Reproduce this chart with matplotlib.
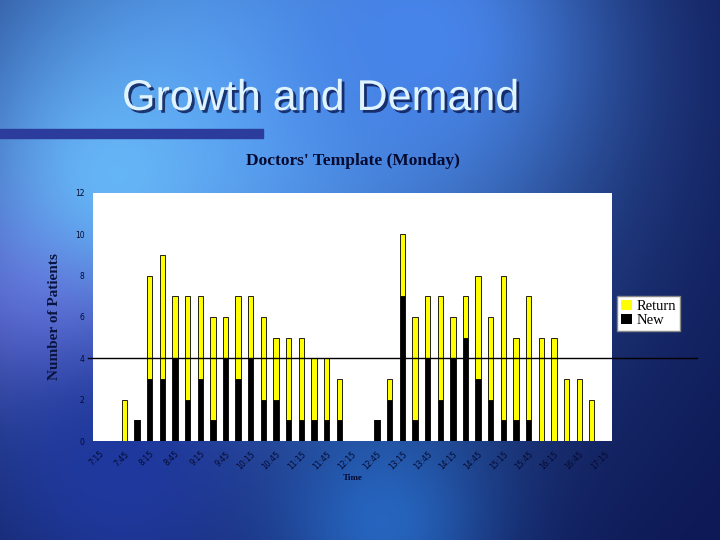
import numpy as np
import matplotlib
matplotlib.use("Agg")
import matplotlib.pyplot as plt
import matplotlib.patheffects as pe
from matplotlib.patches import Rectangle, Patch

# 15-minute slots from 7:15 to 17:15
slot_times = [f"{(7 * 60 + 15 + 15 * i) // 60}:{(7 * 60 + 15 + 15 * i) % 60:02d}" for i in range(41)]
new_patients = [0, 0, 0, 1, 3, 3, 4, 2, 3, 1, 4, 3, 4, 2, 2, 1, 1, 1, 1, 1,
                0, 0, 1, 2, 7, 1, 4, 2, 4, 5, 3, 2, 1, 1, 1, 0, 0, 0, 0, 0, 0]
return_patients = [0, 0, 2, 0, 5, 6, 3, 5, 4, 5, 2, 4, 3, 4, 3, 4, 4, 3, 3, 2,
                   0, 0, 0, 1, 3, 5, 3, 5, 2, 2, 5, 4, 7, 4, 6, 5, 5, 3, 3, 2, 0]
target_line = 4

W, H = 720, 540
fig = plt.figure(figsize=(7.2, 5.4), dpi=100)

# slide background: blue blotchy gradient
yy, xx = np.mgrid[0:H, 0:W]
img = np.ones((H, W, 3)) * np.array([0.05, 0.09, 0.33])
blobs = [((230, 110), 330, (0.34, 0.62, 0.94)),
         ((60, 290), 120, (0.42, 0.40, 0.85)),
         ((120, 180), 130, (0.40, 0.72, 0.97)),
         ((420, 40), 160, (0.28, 0.52, 0.92)),
         ((380, 520), 110, (0.15, 0.40, 0.75)),
         ((120, 470), 140, (0.12, 0.22, 0.62))]
for (cx, cy), r, col in blobs:
    w = np.exp(-(((xx - cx) ** 2 + (yy - cy) ** 2) / r ** 2))[..., None]
    img = img * (1 - w) + np.array(col) * w
bg = fig.add_axes([0, 0, 1, 1], zorder=-1)
bg.imshow(img, aspect="auto", extent=(0, W, H, 0))
bg.set_xlim(0, W)
bg.set_ylim(H, 0)
bg.axis("off")
bg.add_patch(Rectangle((0, 129), 263, 9, color="#2b3c9c"))
bg.text(122, 99, "Growth and Demand", fontsize=31, color="#dff4ff",
        family="Liberation Sans", va="center", ha="left",
        path_effects=[pe.withSimplePatchShadow(offset=(2, -2), shadow_rgbFace="#0a1850", alpha=0.8)])

ax = fig.add_axes([0.129, 0.183, 0.721, 0.46])
ax.set_facecolor("white")
x = np.arange(len(slot_times))
ax.bar(x, new_patients, width=0.42, color="black", edgecolor="black", linewidth=0.6, zorder=2)
ax.bar(x, return_patients, width=0.42, bottom=new_patients, color="#ffff00",
       edgecolor="black", linewidth=0.6, zorder=2)
ax.axhline(target_line, xmin=-0.01, xmax=1.164, color="black", lw=1, clip_on=False, zorder=3)

ax.set_xlim(-0.5, 40.6)
ax.set_ylim(0, 12)
ax.set_yticks(range(0, 13, 2))
ax.set_xticks(x[::2])
ax.set_xticklabels(slot_times[::2], rotation=45, ha="right", rotation_mode="anchor")
ax.tick_params(length=0, labelsize=5.5, labelcolor="#050a30", pad=6)
for s in ax.spines.values():
    s.set_visible(False)

ax.set_title("Doctors' Template (Monday)", family="Liberation Serif", weight="bold",
             fontsize=12.5, color="#050a30", pad=20)
ax.set_ylabel("Number of Patients", family="Liberation Serif", weight="bold",
              fontsize=11, color="#0a1440", labelpad=10)
ax.set_xlabel("Time", family="Liberation Serif", weight="bold", fontsize=6.5,
              color="#050a30", labelpad=2)

handles = [Patch(facecolor="#ffff00", edgecolor="none", label="Return"),
           Patch(facecolor="black", edgecolor="none", label="New")]
fig.legend(handles=handles, loc="upper left", bbox_to_anchor=(0.857, 0.452),
           prop={"family": "Liberation Serif", "size": 10.5}, frameon=True, fancybox=False,
           edgecolor="#888888", framealpha=1, borderpad=0.25, labelspacing=0.1,
           handlelength=0.8, handleheight=0.7, handletextpad=0.3, borderaxespad=0)

fig.savefig("out.png", dpi=100)
